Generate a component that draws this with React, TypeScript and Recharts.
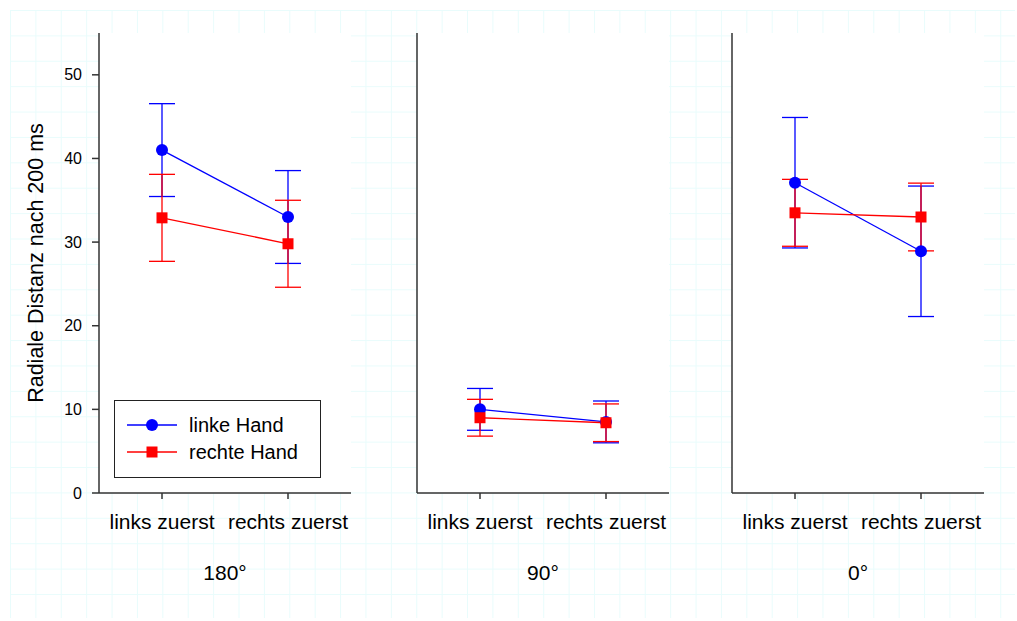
import { CartesianGrid, ErrorBar, Legend, Line, LineChart, XAxis, YAxis } from "recharts";

const categories = ["links zuerst", "rechts zuerst"];
const panelLabels = ["180°", "90°", "0°"];
const seriesNames = ["linke Hand", "rechte Hand"];
const linkeMean = [[41.0, 33.0], [10.0, 8.5], [37.1, 28.9]];
const linkeErr = [[5.55, 5.55], [2.5, 2.5], [7.8, 7.8]];
const rechteMean = [[32.9, 29.8], [9.0, 8.4], [33.5, 33.0]];
const rechteErr = [[5.2, 5.2], [2.2, 2.25], [4.0, 4.05]];
const yTicks = [0, 10, 20, 30, 40, 50];

const BLUE = "#0000ff";
const RED = "#ff0000";
const AXIS = "#333333";
const FONT = "'Liberation Sans', Arial, sans-serif";

const chartLeft = [0, 400, 715];
const yAxisWidth = [99, 17, 17];
const PLOT_W = 252;

function SquareDot(props: any) {
  const { cx, cy, index } = props;
  if (cx == null || cy == null) return null;
  return <rect key={`sq-${index}`} x={cx - 5.5} y={cy - 5.5} width={11} height={11} fill={RED} />;
}

function LegendBox() {
  return (
    <svg width={207} height={78} style={{ display: "block" }}>
      <rect x={0.5} y={0.5} width={206} height={77} fill="#fff" stroke="#222" strokeWidth={1} />
      {seriesNames.map((name, i) => {
        const y = 25 + i * 27;
        const color = i === 0 ? BLUE : RED;
        return (
          <g key={name}>
            <line x1={13} x2={63} y1={y} y2={y} stroke={color} strokeWidth={1.3} />
            {i === 0 ? (
              <circle cx={38} cy={y} r={6} fill={color} />
            ) : (
              <rect x={32.5} y={y - 5.5} width={11} height={11} fill={color} />
            )}
            <text x={75} y={y + 7} fontSize={20} fontFamily={FONT} fill="#000">
              {name}
            </text>
          </g>
        );
      })}
    </svg>
  );
}

function Panel({ idx }: { idx: number }) {
  const data = categories.map((cond, j) => ({
    cond,
    linke: linkeMean[idx][j],
    linkeErr: linkeErr[idx][j],
    rechte: rechteMean[idx][j],
    rechteErr: rechteErr[idx][j],
  }));
  const first = idx === 0;
  const width = yAxisWidth[idx] + PLOT_W + 8;
  return (
    <div style={{ position: "absolute", left: chartLeft[idx], top: 0 }}>
      <LineChart
        width={width}
        height={621}
        data={data}
        margin={{ top: 33, right: 8, bottom: 0, left: 0 }}
        style={{ overflow: "visible" }}
      >
        <CartesianGrid fill="#ffffff" horizontal={false} vertical={false} />
        <XAxis
          dataKey="cond"
          height={128}
          padding={{ left: 63, right: 63 }}
          stroke={AXIS}
          strokeWidth={1.5}
          tickSize={6}
          tickMargin={15}
          tick={{ fill: "#000", fontSize: 21, fontFamily: FONT }}
          interval={0}
          label={{
            content: (p: any) => {
              const vb = p.viewBox;
              return (
                <text
                  x={vb.x + vb.width / 2}
                  y={580}
                  textAnchor="middle"
                  fontSize={21}
                  fontFamily={FONT}
                  fill="#000"
                >
                  {panelLabels[idx]}
                </text>
              );
            },
          }}
        />
        <YAxis
          width={yAxisWidth[idx]}
          domain={[0, 55]}
          ticks={yTicks}
          stroke={AXIS}
          strokeWidth={1.5}
          tick={first ? { fill: "#000", fontSize: 16, fontFamily: FONT } : false}
          tickLine={first}
          tickSize={7}
          tickMargin={10}
          label={
            first
              ? {
                  content: (p: any) => {
                    const vb = p.viewBox;
                    const cy = vb.y + vb.height / 2;
                    return (
                      <text
                        x={43}
                        y={cy}
                        transform={`rotate(-90, 43, ${cy})`}
                        textAnchor="middle"
                        fontSize={21.5}
                        fontFamily={FONT}
                        fill="#000"
                      >
                        Radiale Distanz nach 200 ms
                      </text>
                    );
                  },
                }
              : undefined
          }
        />
        <Line
          dataKey="linke"
          stroke={BLUE}
          strokeWidth={1.3}
          dot={{ r: 6, fill: BLUE, stroke: BLUE, strokeWidth: 0 }}
          activeDot={false}
          isAnimationActive={false}
        >
          <ErrorBar dataKey="linkeErr" direction="y" width={13} stroke={BLUE} strokeWidth={1.3} />
        </Line>
        <Line
          dataKey="rechte"
          stroke={RED}
          strokeWidth={1.3}
          dot={SquareDot}
          activeDot={false}
          isAnimationActive={false}
        >
          <ErrorBar dataKey="rechteErr" direction="y" width={13} stroke={RED} strokeWidth={1.3} />
        </Line>
        {first && (
          <Legend
            layout="horizontal"
            verticalAlign="middle"
            align="center"
            wrapperStyle={{ left: 114, top: 400, width: 207, height: 78 }}
            content={() => <LegendBox />}
          />
        )}
      </LineChart>
    </div>
  );
}

export default function App() {
  return (
    <div
      style={{
        position: "absolute",
        left: 0,
        top: 0,
        width: 1017,
        height: 621,
        background: "#ffffff",
        overflow: "hidden",
      }}
    >
      <div
        style={{
          position: "absolute",
          left: 10,
          top: 10,
          width: 1005,
          height: 608,
          backgroundImage:
            "linear-gradient(to right, #e9fcfc 1px, transparent 1px), linear-gradient(to bottom, #e9fcfc 1px, transparent 1px)",
          backgroundSize: "25.4px 25.4px",
        }}
      />
      {panelLabels.map((_, i) => (
        <Panel key={i} idx={i} />
      ))}
    </div>
  );
}
